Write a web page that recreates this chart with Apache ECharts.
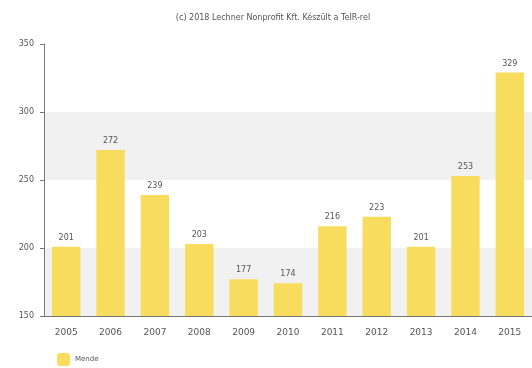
<!DOCTYPE html>
<html>
<head>
<meta charset="utf-8">
<script src="https://cdn.jsdelivr.net/npm/echarts@6/dist/echarts.min.js"></script>
<style>
  html, body { margin: 0; padding: 0; background: #fff; }
  #chart { width: 532px; height: 368px; }
</style>
</head>
<body>
<div id="chart"></div>
<script>
const years = ["2005", "2006", "2007", "2008", "2009", "2010", "2011", "2012", "2013", "2014", "2015"];
const values = [201, 272, 239, 203, 177, 174, 216, 223, 201, 253, 329];
const seriesName = "Mende";
const titleText = "(c) 2018 Lechner Nonprofit Kft. Készült a TeIR-rel";

const chart = echarts.init(document.getElementById("chart"), null, { renderer: "canvas" });

chart.setOption({
    animation: false,
    title: {
        text: titleText,
        left: 268,
        top: 9,
        textAlign: "center",
        textStyle: { fontSize: 8, fontWeight: "normal", color: "#555", fontFamily: "DejaVu Sans" }
    },
    legend: {
        left: 52,
        top: 348,
        itemWidth: 13,
        itemHeight: 13,
        itemGap: 6,
        icon: "roundRect",
        textStyle: { fontSize: 7, color: "#555", fontFamily: "DejaVu Sans" },
        data: [seriesName]
    },
    grid: { left: 44, right: -6, top: 44, bottom: 52 },
    xAxis: {
        type: "category",
        data: years,
        axisLine: { lineStyle: { color: "#777", width: 1 } },
        axisTick: { alignWithLabel: true, length: 4, lineStyle: { color: "#777" } },
        axisLabel: { fontSize: 9, color: "#555", margin: 12, fontFamily: "DejaVu Sans" },
        splitLine: { show: false }
    },
    yAxis: {
        type: "value",
        min: 150,
        max: 350,
        interval: 50,
        axisLine: { show: true, lineStyle: { color: "#777", width: 1 } },
        axisTick: { show: true, length: 4, lineStyle: { color: "#777" } },
        axisLabel: { fontSize: 8, color: "#555", margin: 10, fontFamily: "DejaVu Sans" },
        splitLine: { show: false },
        splitArea: { show: true, areaStyle: { color: ["#f1f1f1", "#ffffff"] } }
    },
    series: [{
        name: seriesName,
        type: "bar",
        data: values,
        barWidth: "64%",
        itemStyle: { color: "#f8dc5e" },
        label: {
            show: true,
            position: "top",
            distance: 5,
            fontSize: 8,
            color: "#555",
            fontFamily: "DejaVu Sans"
        }
    }]
});
</script>
</body>
</html>
